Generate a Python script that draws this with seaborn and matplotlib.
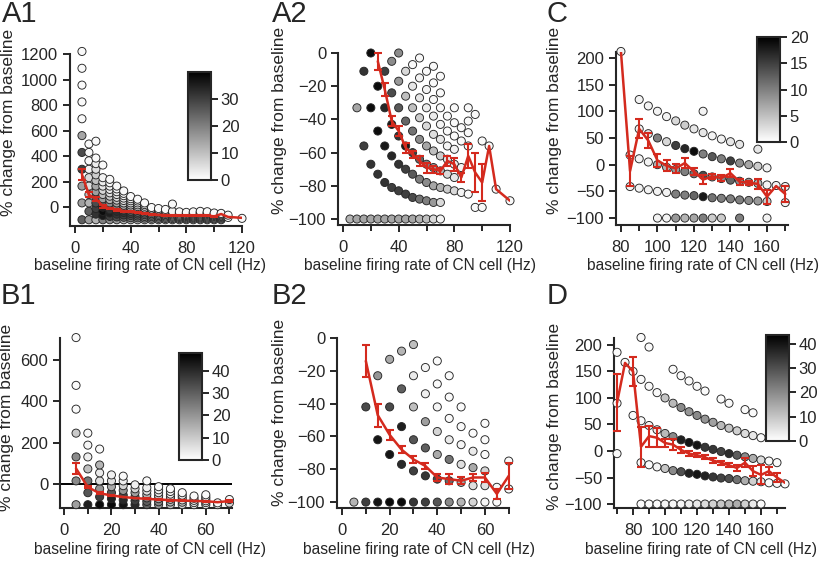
import numpy as np
import pandas as pd
import matplotlib
matplotlib.use("Agg")
import matplotlib.pyplot as plt
import seaborn as sns
from matplotlib.colors import Normalize
from matplotlib.cm import ScalarMappable

# each panel: baseline-rate columns (Hz), % change of each dot in a column, cell count (grey level)
# plus the red mean line (x, mean, sem)

# ---- A1
a1_cols = [5, 10, 15, 20, 25, 30, 35, 40, 45, 50, 55, 60, 65, 70, 75, 80, 85, 90, 95, 100, 105, 110, 120]
a1_y = [
    [-100, 32, 164, 296, 428, 560, 692, 824, 956, 1088, 1220],
    [-100, -34, 32, 98, 164, 230, 296, 362, 428, 494],
    [-100, -56, -12, 32, 76, 120, 164, 208, 252, 296, 340, 384, 516],
    [-100, -67, -34, -1, 32, 65, 98, 131, 164, 197, 230, 329],
    [-100, -74, -47, -21, 6, 32, 58, 85, 111, 138, 164, 190, 217],
    [-100, -78, -56, -34, -12, 10, 32, 54, 76, 98, 120, 142, 164],
    [-100, -81, -62, -43, -25, -6, 13, 32, 51, 70, 89, 107, 126],
    [-100, -84, -67, -51, -34, -18, -1, 16, 32, 49, 65, 82],
    [-100, -85, -71, -56, -41, -27, -12, 3, 17, 32, 47, 61],
    [-100, -87, -74, -60, -47, -34, -21, -8, 6, 19, 32],
    [-100, -88, -76, -64, -52, -40, -28, -16, -4],
    [-100, -89, -78, -67, -56, -45, -34, -23, -12],
    [-100, -90, -80, -70, -59, -49, -39, -29, -19],
    [-100, -91, -81, -72, -62, -53, -43, -34, 23],
    [-100, -91, -82, -74, -65, -56, -47, -38],
    [-100, -92, -84, -75, -67, -59, -50, -42],
    [-100, -92, -84, -77, -69, -61, -53, -46, -38],
    [-100, -93, -85, -78, -71, -63, -56, -49, -41, -34],
    [-100, -93, -86, -79, -72, -65, -58, -51, -44, -37],
    [-100, -93, -87, -80, -74, -67, -60, -54, -47],
    [-100, -94, -87, -81, -75, -69, -62, -56, -50],
    [-82, -64],
    [-89],
]
a1_n = [
    [25, 15, 15, 30, 28, 14, 1, 1, 1, 1, 1],
    [15, 25, 12, 10, 5, 6, 2, 1, 1, 1],
    [12, 32, 30, 28, 25, 15, 14, 10, 8, 5, 3, 1, 1],
    [20, 36, 38, 35, 25, 15, 10, 6, 4, 3, 2, 1],
    [18, 30, 35, 32, 25, 18, 12, 8, 5, 3, 2, 1, 1],
    [15, 28, 32, 33, 28, 20, 14, 9, 6, 4, 2, 1, 1],
    [12, 25, 30, 32, 28, 20, 14, 8, 5, 3, 2, 1, 1],
    [12, 22, 28, 30, 26, 20, 12, 8, 5, 3, 2, 1],
    [10, 20, 25, 28, 24, 18, 12, 7, 4, 2, 1, 1],
    [10, 18, 22, 25, 22, 16, 10, 6, 3, 2, 1],
    [10, 16, 20, 22, 18, 12, 7, 3, 1],
    [10, 15, 18, 20, 16, 10, 6, 3, 1],
    [8, 14, 16, 18, 14, 9, 5, 2, 1],
    [8, 12, 15, 16, 12, 8, 4, 2, 1],
    [8, 12, 14, 14, 10, 6, 3, 1],
    [7, 10, 12, 12, 9, 5, 2, 1],
    [6, 9, 11, 11, 8, 5, 3, 1, 1],
    [5, 8, 10, 10, 8, 5, 3, 2, 1, 1],
    [5, 7, 8, 9, 7, 5, 3, 2, 1, 1],
    [4, 6, 7, 7, 5, 3, 2, 1, 1],
    [3, 5, 6, 6, 4, 3, 2, 1, 1],
    [1, 1],
    [1],
]
a1_mx = [5, 10, 15, 20, 25, 30, 35, 40, 45, 50, 55, 60, 65, 70, 75, 80, 85, 90, 95, 100, 105, 110, 120]
a1_my = [255, 95, 65, 5, -10, -24, -32, -38, -45, -52, -58, -62, -64, -65, -66, -67, -68, -64, -66, -74, -55, -78, -85]
a1_me = [45, 20, 15, 10, 6, 5, 4, 4, 3, 3, 3, 3, 3, 4, 3, 3, 3, 4, 4, 6, 0, 0, 0]

# ---- A2
a2_cols = [5, 10, 15, 20, 25, 30, 35, 40, 45, 50, 55, 60, 65, 70, 75, 80, 85, 90, 95, 100, 105, 110, 120]
a2_y = [
    [-100],
    [-100, -33],
    [-100, -56, -11],
    [-100, -67, -33, 0],
    [-100, -73, -47, -20],
    [-100, -78, -56, -33, -11],
    [-100, -81, -62, -43, -24, -5],
    [-100, -83, -67, -50, -33, -17, 0],
    [-100, -85, -70, -56, -41, -26, -11],
    [-100, -87, -73, -60, -47, -33, -20, -7],
    [-100, -88, -76, -64, -52, -39, -27, -15, -3],
    [-100, -89, -78, -67, -56, -44, -33, -22, -11],
    [-100, -90, -80, -69, -59, -49, -38, -28, -18, -8],
    [-100, -90, -81, -71, -62, -52, -43, -33, -24, -14],
    [-82, -73, -64, -56, -47, -38],
    [-83, -75, -67, -58, -50, -42, -33],
    [-84, -69, -53, -45],
    [-85, -56, -48, -41, -33],
    [-93, -37],
    [-93, -53],
    [-56],
    [-82],
    [-89],
]
a2_n = [
    [12],
    [14, 14],
    [14, 30, 32],
    [14, 32, 38, 38],
    [14, 32, 38, 38],
    [14, 32, 36, 34, 30],
    [14, 30, 34, 36, 28, 18],
    [14, 30, 32, 32, 26, 16, 18],
    [14, 30, 30, 36, 24, 10, 6],
    [14, 28, 26, 30, 22, 10, 4, 1],
    [12, 22, 20, 24, 18, 8, 4, 2, 1],
    [10, 20, 18, 20, 14, 6, 3, 2, 1],
    [6, 16, 14, 16, 10, 5, 3, 1, 1, 1],
    [2, 6, 12, 12, 8, 4, 2, 1, 1, 1],
    [8, 6, 4, 2, 1, 1],
    [6, 4, 3, 2, 1, 1, 1],
    [2, 2, 1, 1],
    [1, 1, 1, 1, 1],
    [1, 1],
    [1, 1],
    [1],
    [1],
    [1],
]
a2_mx = [25, 30, 35, 40, 45, 50, 55, 60, 65, 70, 75, 80, 85, 90, 95, 100, 105, 110, 120]
a2_my = [-5, -22, -41, -47, -57, -61, -65, -69, -70, -71, -65, -67, -75, -62, -72, -78, -56, -82, -89]
a2_me = [5, 4, 3, 3, 3, 2, 3, 3, 2, 2, 3, 4, 3, 7, 12, 11, 0, 0, 0]

# ---- C
c_cols = [80, 85, 90, 95, 100, 105, 110, 115, 120, 125, 130, 135, 140, 145, 150, 155, 160, 165, 170]
c_y = [
    [212],
    [-41, 18],
    [-44, 11, 67, 122],
    [-47, 5, 58, 110],
    [-100, -50, 0, 50, 100],
    [-100, -52, -5, 43, 90],
    [-100, -55, -9, 36, 82],
    [-100, -57, -13, 30, 74],
    [-100, -58, -17, 25, 67],
    [-100, -60, -20, 20, 60, 100],
    [-100, -62, -23, 15, 54],
    [-100, -63, -26, 11, 48],
    [-64, -29, 7, 43],
    [-100, -66, -31, 3, 38],
    [-67, -33, 0],
    [-68, -35, -3, 29],
    [-100, -69, -38, -6],
    [-39],
    [-71, -41],
]
c_n = [
    [1],
    [1, 1],
    [1, 1, 1, 1],
    [1, 1, 2, 1],
    [1, 1, 6, 10, 1],
    [1, 1, 6, 3, 1],
    [8, 10, 8, 15, 3],
    [6, 10, 10, 17, 4],
    [7, 12, 11, 19, 2],
    [10, 18, 14, 10, 2, 1],
    [4, 11, 9, 13, 1],
    [4, 10, 9, 10, 1],
    [10, 12, 15, 2],
    [10, 10, 9, 9, 2],
    [9, 8, 7],
    [8, 6, 4, 2],
    [1, 4, 1, 1],
    [1],
    [1, 1],
]
c_mx = [80, 85, 90, 95, 100, 105, 110, 115, 120, 125, 130, 135, 140, 145, 150, 155, 160, 165, 170]
c_my = [212, -12, 67, 45, 8, -2, -7, 3, -13, -28, -22, -25, -16, -32, -34, -36, -60, -40, -55]
c_me = [0, 28, 18, 14, 12, 10, 8, 9, 7, 8, 5, 5, 8, 6, 4, 10, 13, 0, 15]

# ---- B1
b1_cols = [5, 10, 15, 20, 25, 30, 35, 40, 45, 50, 55, 60, 65, 70]
b1_y = [
    [-100, 15, 131, 246, 362, 477, 708],
    [-100, -42, 15, 73, 131, 188, 246],
    [-100, -62, -23, 15, 54, 92, 169],
    [-100, -71, -42, -13, 15, 44],
    [-100, -77, -54, -31, -8, 15, 38],
    [-100, -81, -62, -42, -23, -4],
    [-100, -84, -67, -51, -34, -18, 15],
    [-100, -86, -71, -57, -42, -28, -13],
    [-100, -87, -74, -62, -49, -36, -23],
    [-100, -88, -77, -65, -54, -42],
    [-100, -90, -79, -69, -58],
    [-100, -90, -81, -71, -62, -52],
    [-100, -91],
    [-92, -75],
]
b1_n = [
    [18, 22, 22, 10, 1, 1, 1],
    [42, 32, 26, 12, 3, 2, 1],
    [46, 36, 20, 6, 4, 14, 1],
    [46, 42, 32, 16, 6, 3],
    [44, 40, 35, 20, 8, 3, 1],
    [40, 36, 30, 18, 8, 3],
    [30, 30, 24, 14, 6, 3, 1],
    [20, 22, 16, 10, 4, 2, 1],
    [12, 14, 10, 6, 3, 1, 1],
    [8, 10, 6, 3, 2, 1],
    [4, 5, 3, 2, 1],
    [3, 3, 2, 1, 1, 1],
    [2, 1],
    [8, 1],
]
b1_mx = [5, 10, 15, 20, 25, 30, 35, 40, 45, 50, 55, 60, 65, 70]
b1_my = [75, -15, -45, -55, -63, -68, -72, -75, -78, -80, -82, -83, -88, -82]
b1_me = [25, 6, 4, 3, 2, 2, 2, 2, 2, 2, 2, 2, 0, 5]

# ---- B2
b2_cols = [5, 10, 15, 20, 25, 30, 35, 40, 45, 50, 55, 60, 65, 70]
b2_y = [
    [-100],
    [-100, -42],
    [-100, -62, -23],
    [-100, -71, -42, -13],
    [-100, -77, -54, -31, -8],
    [-100, -81, -62, -42, -23, -4],
    [-100, -84, -67, -51, -34, -18],
    [-100, -86, -71, -57, -42, -28, -14],
    [-100, -87, -74, -62, -49, -36, -23],
    [-100, -88, -77, -65, -54, -42],
    [-100, -90, -79, -69, -58],
    [-100, -90, -81, -71, -62, -52],
    [-100, -91],
    [-92, -75],
]
b2_n = [
    [14],
    [36, 34],
    [44, 44, 20],
    [46, 44, 34, 16],
    [46, 40, 42, 30, 14],
    [38, 36, 32, 12, 4, 12],
    [36, 38, 30, 18, 3, 2],
    [32, 34, 16, 8, 2, 1, 1],
    [22, 28, 26, 4, 1, 1, 1],
    [14, 16, 6, 2, 1, 1],
    [8, 6, 16, 4, 1],
    [2, 6, 8, 1, 1, 1],
    [1, 1],
    [1, 1],
]
b2_mx = [10, 15, 20, 25, 30, 35, 40, 45, 50, 55, 60, 65, 70]
b2_my = [-14, -47, -59, -68, -74, -78, -85, -86, -87, -85, -85, -95, -84]
b2_me = [10, 7, 3, 2, 2, 2, 2, 3, 2, 2, 3, 3, 8]

# ---- D
d_cols = [70, 75, 80, 85, 90, 95, 100, 105, 110, 115, 120, 125, 130, 135, 140, 145, 150, 155, 160, 165, 170, 175]
d_y = [
    [-5, 90, 186],
    [167],
    [67, 150],
    [-100, -22, 57, 135, 214],
    [-100, -26, 48, 122, 196],
    [-100, -30, 40, 110],
    [-100, -33, 33, 100],
    [-100, -37, 27, 90, 154],
    [-100, -39, 21, 82, 142],
    [-100, -42, 16, 74, 132],
    [-100, -44, 11, 67, 122],
    [-100, -47, 7, 60, 113],
    [-100, -49, 3, 54],
    [-100, -51, -1, 48, 98],
    [-100, -52, -5, 43, 90],
    [-100, -54, -8, 38],
    [-100, -56, -11, 33, 78],
    [-100, -57, -14, 29, 72],
    [-100, -58, -17, 25],
    [-60, -19],
    [-61, -22],
    [-62],
]
d_n = [
    [1, 1, 1],
    [1],
    [1, 1],
    [1, 1, 1, 1, 1],
    [1, 1, 2, 1, 1],
    [1, 2, 3, 1],
    [2, 10, 12, 10],
    [2, 20, 20, 12, 1],
    [2, 30, 38, 20, 1],
    [3, 38, 40, 18, 1],
    [4, 40, 40, 20, 1],
    [6, 38, 34, 18, 1],
    [8, 34, 34, 16],
    [10, 32, 32, 12, 1],
    [12, 30, 36, 10, 1],
    [14, 24, 28, 8],
    [8, 14, 20, 6, 1],
    [4, 8, 14, 4, 1],
    [1, 4, 6, 1],
    [1, 1],
    [1, 1],
    [1],
]
d_mx = [70, 75, 80, 85, 90, 95, 100, 105, 110, 115, 120, 125, 130, 135, 140, 145, 150, 155, 160, 165, 170, 175]
d_my = [91, 166, 150, 8, 28, 25, 15, 12, 2, -5, -8, -12, -18, -22, -27, -32, -22, -38, -45, -38, -50, -60]
d_me = [54, 0, 27, 38, 20, 18, 8, 10, 5, 5, 4, 4, 4, 4, 4, 5, 8, 10, 18, 8, 8, 0]

W, H = 820, 563
RED = "#d42a1e"

sns.set_style("ticks")
plt.rcParams["font.family"] = ["Liberation Sans", "DejaVu Sans"]
plt.rcParams["axes.linewidth"] = 1.5

fig = plt.figure(figsize=(W / 100, H / 100), dpi=100)


def px_axes(l, t, r, b):
    return fig.add_axes([l / W, 1 - b / H, (r - l) / W, (b - t) / H])


def to_frame(cols, ys, ns):
    rows = []
    for x, yy, nn in zip(cols, ys, ns):
        for y, n in zip(yy, nn):
            rows.append((x, y, n))
    return pd.DataFrame(rows, columns=["rate", "change", "count"])


def panel(box, cols, ys, ns, vmax, mx, my, me, xlim, ylim, xmaj, xmin, yticks, ylab, xlab):
    ax = px_axes(*box)
    df = to_frame(cols, ys, ns)
    sns.scatterplot(data=df, x="rate", y="change", hue="count", palette="gray_r",
                    hue_norm=(0, vmax), s=34, edgecolor="#262626", linewidth=0.65,
                    legend=False, ax=ax, zorder=3, clip_on=False)
    mean = pd.DataFrame({"rate": mx, "change": my, "sem": me})
    sns.lineplot(data=mean, x="rate", y="change", color=RED, linewidth=1.8,
                 estimator=None, sort=False, ax=ax, zorder=5)
    eb = mean[mean["sem"] > 0]
    ax.errorbar(eb["rate"], eb["change"], yerr=eb["sem"], fmt="none", ecolor=RED,
                elinewidth=1.5, capsize=2.8, capthick=1.5, zorder=5, clip_on=False)
    ax.set_xlim(*xlim)
    ax.set_ylim(*ylim)
    ax.set_xticks(xmaj)
    ax.set_xticks(xmin, minor=True)
    ax.set_yticks(yticks)
    sns.despine(ax=ax)
    ax.tick_params(which="major", direction="out", length=5, width=1.4, labelsize=12, pad=3.5)
    ax.tick_params(axis="x", which="major", pad=5.5)
    ax.tick_params(which="minor", direction="out", length=4, width=1.4)
    ax.set_xlabel("baseline firing rate of CN cell (Hz)", fontsize=11.2)
    ax.set_ylabel("% change from baseline", fontsize=12.5)
    l, t, r, b = box
    ax.yaxis.set_label_coords((ylab[0] - l) / (r - l), (b - ylab[1]) / (b - t))
    ax.xaxis.set_label_coords((xlab[0] - l) / (r - l), (b - xlab[1]) / (b - t))
    return ax


def colorbar(box, vmax, ticks):
    cax = px_axes(*box)
    sm = ScalarMappable(norm=Normalize(0, vmax), cmap="gray_r")
    cb = fig.colorbar(sm, cax=cax, ticks=ticks)
    cb.outline.set_linewidth(1.5)
    cax.tick_params(direction="out", length=5, width=1.4, labelsize=12, pad=2)


panel((70, 54, 242, 226), a1_cols, a1_y, a1_n, 40, a1_mx, a1_my, a1_me,
      (-3.6, 120), (-149, 1200), [0, 40, 80, 120], [20, 60, 100],
      [0, 200, 400, 600, 800, 1000, 1200], (15.5, 122), (150, 258))
colorbar((188, 72, 211, 180), 40, [0, 10, 20, 30])

panel((338, 53, 510, 225), a2_cols, a2_y, a2_n, 40, a2_mx, a2_my, a2_me,
      (-3.6, 120), (-103.6, 0), [0, 40, 80, 120], [20, 60, 100],
      [-100, -80, -60, -40, -20, 0], (287, 120), (420, 258))

panel((616, 52, 788, 225), c_cols, c_y, c_n, 20, c_mx, c_my, c_me,
      (77.3, 171.5), (-113, 211), [80, 100, 120, 140, 160], [90, 110, 130, 150, 170],
      [-100, -50, 0, 50, 100, 150, 200], (562, 120), (703, 258))
colorbar((757, 37, 780, 142), 20, [0, 5, 10, 15, 20])

ax_b1 = panel((60, 338, 232, 508), b1_cols, b1_y, b1_n, 48, b1_mx, b1_my, b1_me,
              (-1.8, 71.1), (-116, 706), [0, 20, 40, 60], [10, 30, 50, 70],
              [0, 200, 400, 600], (13.5, 417), (150, 542))
ax_b1.axhline(0, color="black", linewidth=1.4, zorder=2)
colorbar((179, 353, 202, 460), 48, [0, 10, 20, 30, 40])

panel((337, 338, 509, 508), b2_cols, b2_y, b2_n, 48, b2_mx, b2_my, b2_me,
      (-2.1, 70.1), (-103.6, 0), [0, 20, 40, 60], [10, 30, 50, 70],
      [-100, -80, -60, -40, -20, 0], (287, 412), (419, 542))

panel((614, 338, 785, 508), d_cols, d_y, d_n, 43.5, d_mx, d_my, d_me,
      (68.1, 175), (-107.5, 213), [80, 100, 120, 140, 160], [70, 90, 110, 130, 150, 170],
      [-100, -50, 0, 50, 100, 150, 200], (562, 416), (701, 542))
colorbar((766, 335, 789, 441), 43.5, [0, 10, 20, 30, 40])

for label, x, y in [("A1", 2, 0), ("A2", 272, 0), ("C", 547, 0),
                    ("B1", 1, 282), ("B2", 272, 282), ("D", 547, 282)]:
    fig.text(x / W, 1 - y / H, label, fontsize=21, va="top", ha="left")

fig.savefig("out.png", dpi=100)
